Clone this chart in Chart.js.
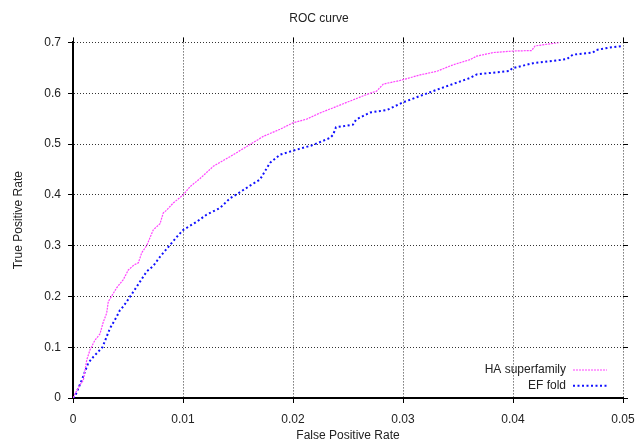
<!DOCTYPE html>
<html lang="en">
<head>
    <meta charset="UTF-8">
    <title>ROC curve</title>
    <script src="https://cdn.jsdelivr.net/npm/chart.js"></script>
    <style>
        html, body {
            margin: 0;
            padding: 0;
            background: #fff;
        }
        #chartContainer {
            width: 638px;
            height: 442px;
        }
    </style>
</head>
<body>
    <div id="chartContainer">
        <canvas id="rocChart"></canvas>
    </div>

    <script>
        // HA superfamily: false positive rate / true positive rate
        const haFpr = [0, 0.00023, 0.00064, 0.00094, 0.00125, 0.00155, 0.0017, 0.00185, 0.002, 0.00245,
            0.00273, 0.00306, 0.00321, 0.00336, 0.00397, 0.00457, 0.00503, 0.00555, 0.00594, 0.00625,
            0.0067, 0.0073, 0.00791, 0.0082, 0.00852, 0.00912, 0.01003, 0.01064, 0.01155, 0.01275,
            0.01427, 0.01579, 0.0173, 0.01882, 0.02003, 0.02125, 0.02245, 0.02397, 0.02548, 0.027,
            0.0276, 0.02821, 0.02973, 0.03155, 0.03306, 0.03457, 0.03609, 0.0367, 0.03821, 0.04003,
            0.0417, 0.042, 0.04427];
        const haTpr = [0, 0.01, 0.026, 0.035, 0.075, 0.095, 0.101, 0.108, 0.114, 0.126,
            0.148, 0.167, 0.19, 0.195, 0.217, 0.233, 0.252, 0.262, 0.266, 0.286,
            0.3, 0.331, 0.343, 0.364, 0.37, 0.384, 0.4, 0.416, 0.432, 0.456,
            0.475, 0.495, 0.515, 0.529, 0.542, 0.549, 0.561, 0.574, 0.587, 0.6,
            0.604, 0.618, 0.625, 0.636, 0.643, 0.656, 0.666, 0.673, 0.68, 0.683,
            0.684, 0.693, 0.7];

        // EF fold
        const efFpr = [0, 0.00018, 0.00079, 0.00139, 0.00185, 0.00268, 0.00336, 0.00397, 0.00427, 0.00457,
            0.00518, 0.00579, 0.0067, 0.0073, 0.00791, 0.00877, 0.00943, 0.01003, 0.01125, 0.01215,
            0.01336, 0.01427, 0.01503, 0.01609, 0.017, 0.01791, 0.01882, 0.02003, 0.02182, 0.02336,
            0.02364, 0.02391, 0.02545, 0.02573, 0.027, 0.02855, 0.03, 0.03309, 0.03609, 0.0367,
            0.03973, 0.03991, 0.04182, 0.04488, 0.04545, 0.04727, 0.04755, 0.04882, 0.05];
        const efTpr = [0, 0.003, 0.035, 0.069, 0.081, 0.1, 0.137, 0.16, 0.173, 0.18,
            0.199, 0.219, 0.249, 0.26, 0.278, 0.3, 0.317, 0.331, 0.347, 0.361,
            0.374, 0.393, 0.403, 0.418, 0.43, 0.463, 0.479, 0.487, 0.498, 0.512,
            0.518, 0.533, 0.538, 0.548, 0.562, 0.567, 0.582, 0.607, 0.63, 0.637,
            0.644, 0.649, 0.659, 0.667, 0.676, 0.68, 0.685, 0.69, 0.693];

        const seriesNames = ['HA superfamily', 'EF fold'];

        const FONT = 'Liberation Sans, Arial, Helvetica, sans-serif';
        const TEXT = '#222';

        const toPoints = (xs, ys) => xs.map((x, i) => ({x: x, y: ys[i]}));

        // key in the lower right corner: label right-aligned, line sample after it
        const keyPlugin = {
            id: 'key',
            afterDatasetsDraw(chart) {
                const ctx = chart.ctx;
                const area = chart.chartArea;
                const textRight = area.right - 57;
                const lineStart = area.right - 50;
                const lineEnd = area.right - 16;
                ctx.save();
                ctx.font = '12px ' + FONT;
                ctx.textAlign = 'right';
                ctx.textBaseline = 'middle';
                chart.data.datasets.forEach((ds, i) => {
                    const y = area.bottom - 28 + i * 15.7;
                    ctx.fillStyle = TEXT;
                    ctx.fillText(ds.label, textRight, y);
                    ctx.strokeStyle = ds.borderColor;
                    ctx.lineWidth = ds.borderWidth;
                    ctx.setLineDash(ds.borderDash);
                    ctx.beginPath();
                    ctx.moveTo(lineStart, y);
                    ctx.lineTo(lineEnd, y);
                    ctx.stroke();
                });
                ctx.restore();
            }
        };

        const gridDots = {color: '#333', lineWidth: 1, tickColor: '#000', tickLength: 5, tickWidth: 1};

        // fixed scale sizes; no extra room for overhanging tick labels
        const fixSize = (w, h) => s => {
            if (w !== null) s.width = w;
            if (h !== null) s.height = h;
            s.paddingLeft = 0;
            s.paddingRight = 0;
            s.paddingTop = 0;
            s.paddingBottom = 0;
        };

        const ctx = document.getElementById('rocChart').getContext('2d');
        const chart = new Chart(ctx, {
            type: 'line',
            data: {
                datasets: [
                    {
                        label: seriesNames[0],
                        data: toPoints(haFpr, haTpr),
                        borderColor: '#ff44ff',
                        borderWidth: 1.2,
                        borderDash: [2, 1],
                        pointRadius: 0,
                        fill: false,
                        tension: 0
                    },
                    {
                        label: seriesNames[1],
                        data: toPoints(efFpr, efTpr),
                        borderColor: '#1010ff',
                        borderWidth: 2,
                        borderDash: [2, 2.5],
                        pointRadius: 0,
                        fill: false,
                        tension: 0
                    }
                ]
            },
            options: {
                responsive: true,
                maintainAspectRatio: false,
                animation: false,
                layout: {padding: 0},
                scales: {
                    x: {
                        type: 'linear',
                        position: 'bottom',
                        min: 0,
                        max: 0.05,
                        afterFit: fixSize(null, 44),
                        ticks: {
                            stepSize: 0.01,
                            padding: 9,
                            color: TEXT,
                            font: {family: FONT, size: 12},
                            maxRotation: 0,
                            callback: v => String(+v.toFixed(2))
                        },
                        grid: gridDots,
                        border: {display: true, color: '#000', width: 2, dash: [1, 2]},
                        title: {
                            display: true,
                            text: 'False Positive Rate',
                            color: TEXT,
                            font: {family: FONT, size: 12, lineHeight: 1},
                            padding: 0
                        }
                    },
                    y: {
                        type: 'linear',
                        position: 'left',
                        min: 0,
                        max: 0.7,
                        afterFit: fixSize(73, null),
                        ticks: {
                            stepSize: 0.1,
                            padding: 7,
                            color: TEXT,
                            font: {family: FONT, size: 12},
                            callback: v => String(+v.toFixed(1))
                        },
                        grid: gridDots,
                        border: {display: true, color: '#000', width: 2, dash: [1, 2]},
                        title: {
                            display: true,
                            text: 'True Positive Rate',
                            color: TEXT,
                            font: {family: FONT, size: 12, lineHeight: 1.2},
                            padding: {top: 11, bottom: 0}
                        }
                    },
                    // mirrored tick marks on the top and right edges
                    x2: {
                        type: 'linear',
                        position: 'top',
                        min: 0,
                        max: 0.05,
                        afterFit: fixSize(null, 17),
                        ticks: {stepSize: 0.01, display: false},
                        grid: {drawOnChartArea: false, tickColor: '#000', tickLength: 5, tickWidth: 1},
                        border: {display: false}
                    },
                    y2: {
                        type: 'linear',
                        position: 'right',
                        min: 0,
                        max: 0.7,
                        afterFit: fixSize(15, null),
                        ticks: {stepSize: 0.1, display: false},
                        grid: {drawOnChartArea: false, tickColor: '#000', tickLength: 5, tickWidth: 1},
                        border: {display: false}
                    }
                },
                plugins: {
                    legend: {display: false},
                    tooltip: {enabled: false},
                    title: {
                        display: true,
                        text: 'ROC curve',
                        color: TEXT,
                        font: {family: FONT, size: 12, weight: 'normal', lineHeight: 1.2},
                        padding: {top: 11, bottom: 0}
                    }
                }
            },
            plugins: [keyPlugin]
        });
    </script>
</body>
</html>
